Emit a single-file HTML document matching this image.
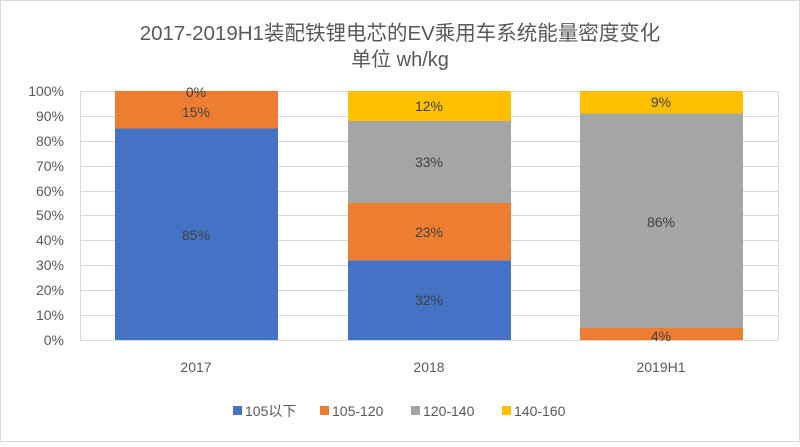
<!DOCTYPE html>
<html><head><meta charset="utf-8"><style>
body{margin:0;background:#fff;}
svg text{font-family:"Liberation Sans","Noto Sans CJK SC",sans-serif;fill:#595959;}
</style></head><body>
<svg width="800" height="442" viewBox="0 0 800 442" xmlns="http://www.w3.org/2000/svg">
<rect x="0.5" y="0.5" width="799" height="441" fill="#fff" stroke="#d9d9d9"/>
<text x="400" y="40" font-size="20.5" text-anchor="middle">2017-2019H1装配铁锂电芯的EV乘用车系统能量密度变化</text>
<text x="400" y="66" font-size="20" text-anchor="middle">单位 wh/kg</text>
<g stroke="#d9d9d9" stroke-width="1">
<line x1="80" y1="91.5" x2="778" y2="91.5"/><line x1="80" y1="116.5" x2="778" y2="116.5"/>
<line x1="80" y1="141.5" x2="778" y2="141.5"/><line x1="80" y1="166.5" x2="778" y2="166.5"/>
<line x1="80" y1="191.5" x2="778" y2="191.5"/><line x1="80" y1="215.5" x2="778" y2="215.5"/>
<line x1="80" y1="240.5" x2="778" y2="240.5"/><line x1="80" y1="265.5" x2="778" y2="265.5"/>
<line x1="80" y1="290.5" x2="778" y2="290.5"/><line x1="80" y1="315.5" x2="778" y2="315.5"/>
<line x1="80" y1="340.5" x2="778" y2="340.5"/><line x1="80.5" y1="91" x2="80.5" y2="340"/>
<line x1="778.5" y1="91" x2="778.5" y2="340"/>
</g>
<g font-size="14" text-anchor="end">
<text x="64" y="96">100%</text><text x="64" y="121">90%</text><text x="64" y="146">80%</text>
<text x="64" y="171">70%</text><text x="64" y="196">60%</text><text x="64" y="220">50%</text>
<text x="64" y="245">40%</text><text x="64" y="270">30%</text><text x="64" y="295">20%</text>
<text x="64" y="320">10%</text><text x="64" y="345">0%</text>
</g>
<rect x="115" y="128.5" width="163" height="211.5" fill="#4472c4"/>
<rect x="115" y="91" width="163" height="37.5" fill="#ed7d31"/>
<rect x="348" y="260.3" width="163" height="79.7" fill="#4472c4"/>
<rect x="348" y="203" width="163" height="57.3" fill="#ed7d31"/>
<rect x="348" y="121" width="163" height="82" fill="#a5a5a5"/>
<rect x="348" y="91" width="163" height="30" fill="#ffc000"/>
<rect x="580" y="328" width="163" height="12" fill="#ed7d31"/>
<rect x="580" y="113.5" width="163" height="214.5" fill="#a5a5a5"/>
<rect x="580" y="91" width="163" height="22.5" fill="#ffc000"/>
<g font-size="14" text-anchor="middle">
<text x="196" y="97" style="fill:#404040">0%</text><text x="196" y="117" style="fill:#404040">15%</text>
<text x="196" y="240" style="fill:#404040">85%</text>
<text x="429" y="305" style="fill:#404040">32%</text><text x="429" y="237" style="fill:#404040">23%</text>
<text x="429" y="167" style="fill:#404040">33%</text><text x="429" y="111" style="fill:#404040">12%</text>
<text x="661" y="341" style="fill:#404040">4%</text><text x="661" y="227" style="fill:#404040">86%</text>
<text x="661" y="107" style="fill:#404040">9%</text>
</g>
<g font-size="14" text-anchor="middle">
<text x="196" y="372">2017</text><text x="429" y="372">2018</text><text x="661" y="372">2019H1</text>
</g>
<g font-size="14">
<rect x="233" y="406" width="9" height="9" fill="#4472c4"/><text x="245" y="416">105以下</text>
<rect x="320" y="406" width="9" height="9" fill="#ed7d31"/><text x="332" y="416">105-120</text>
<rect x="411" y="406" width="9" height="9" fill="#a5a5a5"/><text x="423" y="416">120-140</text>
<rect x="502" y="406" width="9" height="9" fill="#ffc000"/><text x="514" y="416">140-160</text>
</g>
</svg>
</body></html>
